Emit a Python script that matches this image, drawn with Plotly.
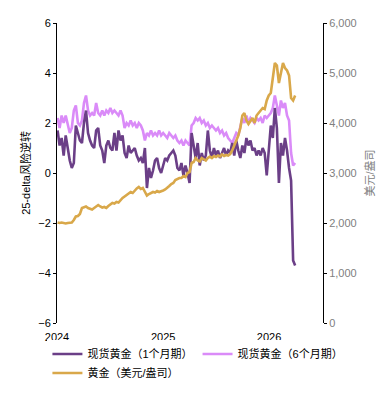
import pandas as pd
import plotly.graph_objects as go

rr_1m = [1.7, 1.1, 1.4, 0.7, 1.5, 0.9, 0.5, 0.2, 0.4, 1.9,
         1.6, 1.3, 1.2, 2.0, 2.5, 1.6, 1.3, 1.1, 1.0, 1.7,
         1.8, 1.1, 0.9, 0.4, 1.1, 1.3, 1.0, 0.9, 1.6, 0.9,
         1.7, 1.3, 1.5, 0.8, 0.6, 1.1, 0.8, 0.9, 1.0, 0.7,
         0.5, 0.6, 0.4, 1.0, -0.6, 0.2, -0.2, 0.1, 0.5, 0.6,
         0.2, 0.0, 0.3, 0.6, 0.5, 0.7, 0.8, 0.9, 0.7, 0.2,
         0.1, 0.4, -0.1, 0.3, 0.0, -0.4, 1.6, 1.1, 0.6, 1.2,
         0.3, 0.8, 0.5, 0.7, 1.7, 0.9, 0.6, 1.0, 0.7, 0.9,
         0.6, 0.8, 1.0, 0.7, 0.9, 0.8, 1.2, 0.7, 1.3, 0.9,
         0.6, 1.1, 0.8, 1.4, 1.1, 1.3, 0.9, 1.0, 0.7, 0.9,
         0.7, 1.0, 0.8, -0.1, 1.1, 1.9, 1.4, 2.6, 1.8, -0.4,
         1.2, 0.7, 1.4, 0.9, 0.2, -0.3, -3.5, -3.7]

rr_6m = [2.2, 1.8, 2.3, 2.0, 2.3, 1.9, 1.6, 1.8, 2.5, 2.7,
         2.0, 1.9, 2.1, 2.8, 3.1, 2.5, 2.3, 2.4, 2.3, 2.8,
         2.4, 2.3, 2.5, 2.3, 2.5, 2.4, 2.6, 2.4, 2.5, 2.4,
         2.3, 2.5, 2.3, 1.8, 2.0, 1.9, 2.1, 1.9, 2.0, 1.8,
         2.0, 1.9, 1.7, 1.3, 1.6, 1.5, 1.7, 1.5, 1.6, 1.5,
         1.7, 1.5, 1.6, 1.5, 1.4, 1.6, 1.5, 1.4, 1.5, 1.3,
         1.2, 1.3, 1.1, 1.3, 1.2, 1.1, 1.9, 2.0, 2.2, 2.1,
         2.2, 2.0, 2.1, 1.9, 2.0, 1.8, 1.9, 1.8, 1.7, 1.8,
         1.6, 1.7, 1.5, 1.6, 1.4, 1.3, 1.2, 1.4, 1.6, 1.5,
         1.9, 2.2, 2.0, 2.3, 2.0, 2.2, 2.1, 2.0, 2.2, 2.1,
         2.2, 2.0, 2.3, 2.2, 2.3, 2.4, 2.6, 3.1, 2.7, 2.3,
         2.9, 2.6, 2.8, 2.3, 2.1, 0.8, 0.3, 0.4]

gold = [2010, 2000, 2010, 2000, 1990, 2000, 2000, 2010, 2060, 2130,
        2140, 2180, 2300, 2320, 2330, 2300, 2280, 2270, 2300, 2340,
        2360, 2330, 2310, 2320, 2300, 2340, 2380, 2400, 2390, 2420,
        2410, 2460, 2500, 2530, 2560, 2580, 2620, 2600, 2650, 2690,
        2720, 2680, 2700, 2620, 2550, 2580, 2600, 2620, 2610, 2640,
        2620, 2630, 2650, 2670, 2700, 2740, 2780, 2800, 2860, 2880,
        2900, 2900, 2940, 2920, 3000, 3020, 3200, 3220, 3300, 3250,
        3230, 3300, 3270, 3250, 3300, 3330, 3300, 3340, 3320, 3350,
        3330, 3370, 3340, 3360, 3350, 3380, 3450, 3550, 3650, 3750,
        3900, 4150, 4200, 4050, 3980, 4050, 4100, 4000, 4150, 4200,
        4250, 4300, 4280, 4450, 4550, 4600, 4900, 5200, 5150, 4800,
        5000, 5200, 5100, 5050, 4950, 4500, 4450, 4550]

dates = pd.date_range("2024-01-03", periods=len(gold), freq="7D")

names = ["现货黄金（1个月期）", "现货黄金（6个月期）", "黄金（美元/盎司）"]
colors = ["#6B3F87", "#DA8BF8", "#D9A84A"]
x_ticks = ["2024-01-01", "2025-01-01", "2026-01-01"]
x_tick_text = ["2024", "2025", "2026"]
left_ticks = [-6, -4, -2, 0, 2, 4, 6]
right_ticks = [0, 1000, 2000, 3000, 4000, 5000, 6000]

FONT = "Liberation Sans, Arial, Noto Sans CJK SC, sans-serif"
LW = 2.6

fig = go.Figure()
fig.add_trace(go.Scatter(x=dates, y=rr_6m, name=names[1], mode="lines",
                         line=dict(color=colors[1], width=LW), legendrank=2))
fig.add_trace(go.Scatter(x=dates, y=rr_1m, name=names[0], mode="lines",
                         line=dict(color=colors[0], width=LW), legendrank=1))
fig.add_trace(go.Scatter(x=dates, y=gold, name=names[2], mode="lines", yaxis="y2",
                         line=dict(color=colors[2], width=LW), legendrank=3))

x_range = ["2024-01-01", "2026-07-06"]

# page body has an 8px default margin, so the figure is sized to compensate
fig.update_layout(
    width=380, height=387,
    margin=dict(l=49, r=65, t=15, b=72, autoexpand=False),
    paper_bgcolor="white", plot_bgcolor="white",
    font=dict(family=FONT, size=11, color="black"),
    showlegend=True,
    legend=dict(orientation="h", x=-0.036, xanchor="left", y=-0.055, yanchor="top",
                font=dict(family=FONT, size=11, color="black"),
                itemwidth=30, tracegroupgap=0, traceorder="normal"),
    xaxis=dict(type="date", range=x_range, tickvals=x_ticks, ticktext=x_tick_text,
               showline=False, showgrid=False, zeroline=False, automargin=False,
               ticks="outside", ticklen=4, tickcolor="rgba(0,0,0,0)",
               tickfont=dict(size=11, color="black")),
    xaxis2=dict(type="date", range=x_range, overlaying="x", anchor="free", position=0.5,
                side="bottom", tickvals=x_ticks[1:], showticklabels=False,
                showline=True, linecolor="black", linewidth=1, automargin=False,
                ticks="outside", ticklen=4, tickcolor="black", showgrid=False, zeroline=False),
    yaxis=dict(range=[-6, 6], tickvals=left_ticks, showline=True, linecolor="black",
               linewidth=1, ticks="outside", ticklen=3, tickcolor="black",
               showgrid=False, zeroline=False, automargin=False,
               title=dict(text="25-delta风险逆转", font=dict(size=11, color="black"), standoff=5),
               tickfont=dict(size=11, color="black")),
    yaxis2=dict(range=[0, 6000], tickvals=right_ticks, tickformat=",", overlaying="y",
                side="right", showline=True, linecolor="black", linewidth=1,
                ticks="outside", ticklen=3, tickcolor="black", showgrid=False, zeroline=False,
                automargin=False,
                title=dict(text="美元/盎司", font=dict(size=11, color="#808080"), standoff=10),
                tickfont=dict(size=11, color="#808080")),
)

fig.write_html("out.html")
